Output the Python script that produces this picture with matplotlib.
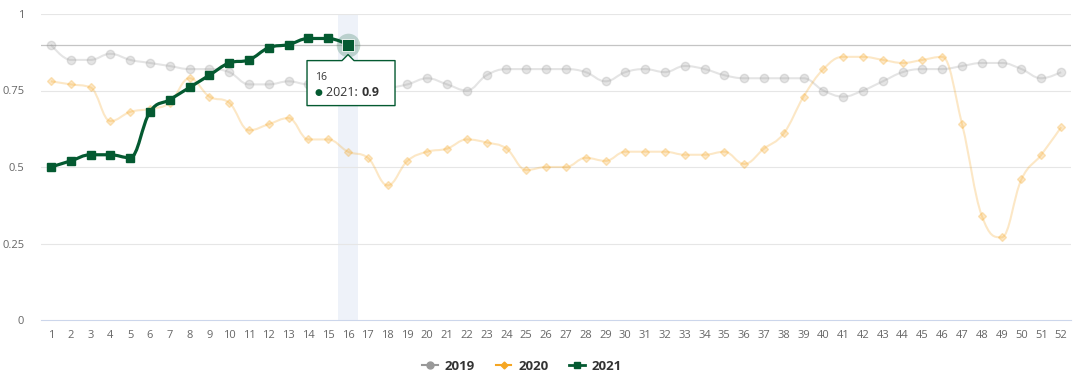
import matplotlib
matplotlib.use("Agg")
import matplotlib.pyplot as plt
import matplotlib.transforms as mtransforms
from matplotlib.path import Path
from matplotlib.patches import PathPatch, Polygon
from matplotlib.lines import Line2D
from matplotlib.text import Annotation

weeks = list(range(1, 53))
week_labels = [str(w) for w in weeks]

values_2019 = [0.90, 0.85, 0.85, 0.87, 0.85, 0.84, 0.83, 0.82, 0.82, 0.81,
               0.77, 0.77, 0.78, 0.77, 0.77, 0.78, 0.78, 0.76, 0.77, 0.79,
               0.77, 0.75, 0.80, 0.82, 0.82, 0.82, 0.82, 0.81, 0.78, 0.81,
               0.82, 0.81, 0.83, 0.82, 0.80, 0.79, 0.79, 0.79, 0.79, 0.75,
               0.73, 0.75, 0.78, 0.81, 0.82, 0.82, 0.83, 0.84, 0.84, 0.82,
               0.79, 0.81]
values_2020 = [0.78, 0.77, 0.76, 0.65, 0.68, 0.69, 0.71, 0.79, 0.73, 0.71,
               0.62, 0.64, 0.66, 0.59, 0.59, 0.55, 0.53, 0.44, 0.52, 0.55,
               0.56, 0.59, 0.58, 0.56, 0.49, 0.50, 0.50, 0.53, 0.52, 0.55,
               0.55, 0.55, 0.54, 0.54, 0.55, 0.51, 0.56, 0.61, 0.73, 0.82,
               0.86, 0.86, 0.85, 0.84, 0.85, 0.86, 0.64, 0.34, 0.27, 0.46,
               0.54, 0.63]
values_2021 = [0.50, 0.52, 0.54, 0.54, 0.53, 0.68, 0.72, 0.76, 0.80, 0.84,
               0.85, 0.89, 0.90, 0.92, 0.92, 0.90]

y_ticks = [0, 0.25, 0.5, 0.75, 1]
y_tick_labels = ["0", "0.25", "0.5", "0.75", "1"]
target_line = 0.9
hover_week = 16

c2019, c2020, c2021 = "#999999", "#f5a623", "#045a31"

plt.rcParams["font.family"] = ["Open Sans", "DejaVu Sans"]


def spline_path(xs, ys, smoothing=1.5):
    # highcharts-like spline: bezier control points from neighbours
    n = len(xs)
    left, right = [None] * n, [None] * n
    denom = smoothing + 1
    for i in range(1, n - 1):
        x, y = xs[i], ys[i]
        lx, ly, nx, ny = xs[i - 1], ys[i - 1], xs[i + 1], ys[i + 1]
        lcx = (smoothing * x + lx) / denom
        lcy = (smoothing * y + ly) / denom
        rcx = (smoothing * x + nx) / denom
        rcy = (smoothing * y + ny) / denom
        if rcx != lcx:
            corr = (rcy - lcy) * (rcx - x) / (rcx - lcx) + y - rcy
            lcy += corr
            rcy += corr
        if lcy > ly and lcy > y:
            lcy = max(ly, y)
            rcy = 2 * y - lcy
        elif lcy < ly and lcy < y:
            lcy = min(ly, y)
            rcy = 2 * y - lcy
        if rcy > ny and rcy > y:
            rcy = max(ny, y)
            lcy = 2 * y - rcy
        elif rcy < ny and rcy < y:
            rcy = min(ny, y)
            lcy = 2 * y - rcy
        left[i] = (lcx, lcy)
        right[i] = (rcx, rcy)
    verts = [(xs[0], ys[0])]
    codes = [Path.MOVETO]
    for i in range(1, n):
        c1 = right[i - 1] if right[i - 1] else (xs[i - 1], ys[i - 1])
        c2 = left[i] if left[i] else (xs[i], ys[i])
        verts += [c1, c2, (xs[i], ys[i])]
        codes += [Path.CURVE4] * 3
    return Path(verts, codes)


fig = plt.figure(figsize=(10.8, 3.76), dpi=100)
ax = fig.add_axes([41 / 1080, 56 / 376, 1030 / 1080, 306 / 376])
ax.set_xlim(0.5, 52.5)
ax.set_ylim(0, 1)

for t in y_ticks[1:]:
    ax.axhline(t, color="#e6e6e6", lw=0.8, zorder=1)
ax.axhline(target_line, color="#c4c4c4", lw=0.9, zorder=1)
ax.axvspan(hover_week - 0.5, hover_week + 0.5, color="#eef2f9", lw=0, zorder=0.5)

for spine in ["top", "right", "left"]:
    ax.spines[spine].set_visible(False)
ax.spines["bottom"].set_color("#ccd6eb")
ax.spines["bottom"].set_linewidth(0.8)

ax.set_xticks(weeks)
ax.set_xticklabels(week_labels)
ax.set_yticks(y_ticks)
ax.set_yticklabels(y_tick_labels)
ax.tick_params(axis="x", length=0, pad=7, labelsize=8, labelcolor="#666666")
ax.tick_params(axis="y", length=0, pad=12, labelsize=8, labelcolor="#666666")

# inactive series (faded)
fade = 0.26
ax.add_patch(PathPatch(spline_path(weeks, values_2019), fill=False, ec=c2019,
                       lw=1.5, alpha=fade, zorder=2))
ax.plot(weeks, values_2019, ls="none", marker="o", ms=6, color=c2019, alpha=fade, zorder=2)
ax.add_patch(PathPatch(spline_path(weeks, values_2020), fill=False, ec=c2020,
                       lw=1.5, alpha=fade, zorder=2))
ax.plot(weeks, values_2020, ls="none", marker="D", ms=4, color=c2020, alpha=fade, zorder=2)

weeks_2021 = weeks[:len(values_2021)]
ax.add_patch(PathPatch(spline_path(weeks_2021, values_2021), fill=False, ec=c2021,
                       lw=2.3, zorder=3, capstyle="round", joinstyle="round"))
ax.plot(weeks_2021, values_2021, ls="none", marker="s", ms=6.3, color=c2021, zorder=3)

# hovered point
hv = values_2021[hover_week - 1]
ax.plot([hover_week], [hv], marker="o", ms=17, color=c2021, alpha=0.22, mew=0, zorder=4)
ax.plot([hover_week], [hv], marker="s", ms=8.5, color=c2021, mec="white", mew=0.6, zorder=5)

# tooltip anchored on the hovered point (pixel offsets)
ox, oy = ax.transData.transform((hover_week, hv))
tt = mtransforms.Affine2D().translate(ox, oy)
box = [(-41, -16), (-6, -16), (0, -10), (6, -16), (47, -16), (47, -61), (-41, -61)]
fig.patches.append(Polygon(box, closed=True, transform=tt, fc="white", ec=c2021,
                           lw=1.0, joinstyle="round", zorder=10))
fig.text(-33, -33, str(hover_week), transform=tt, fontsize=7.5, color="#333333",
         va="center", ha="left", zorder=11)
fig.text(-30, -48, "\u25cf", transform=tt, fontsize=6.5, color=c2021,
         va="center", ha="center", zorder=11)
lab = fig.text(-22, -48, "2021: ", transform=tt, fontsize=9, color="#333333",
               va="center", ha="left", zorder=11)
fig.add_artist(Annotation("0.9", xy=(1, 0.5), xycoords=lab, va="center", ha="left",
                          fontsize=9, fontweight="bold", color="#333333", zorder=11))

handles = [
    Line2D([], [], color=c2019, marker="o", ms=5, lw=1.5),
    Line2D([], [], color=c2020, marker="D", ms=3.5, lw=1.5),
    Line2D([], [], color=c2021, marker="s", ms=5, lw=2),
]
leg = fig.legend(handles, ["2019", "2020", "2021"], loc="center", ncol=3,
                 bbox_to_anchor=(522 / 1080, 10 / 376), frameon=False, handlelength=1.2,
                 handletextpad=0.5, columnspacing=1.6,
                 prop={"weight": "bold", "size": 9.5})
for txt in leg.get_texts():
    txt.set_color("#333333")

fig.savefig("out.png", dpi=100)
